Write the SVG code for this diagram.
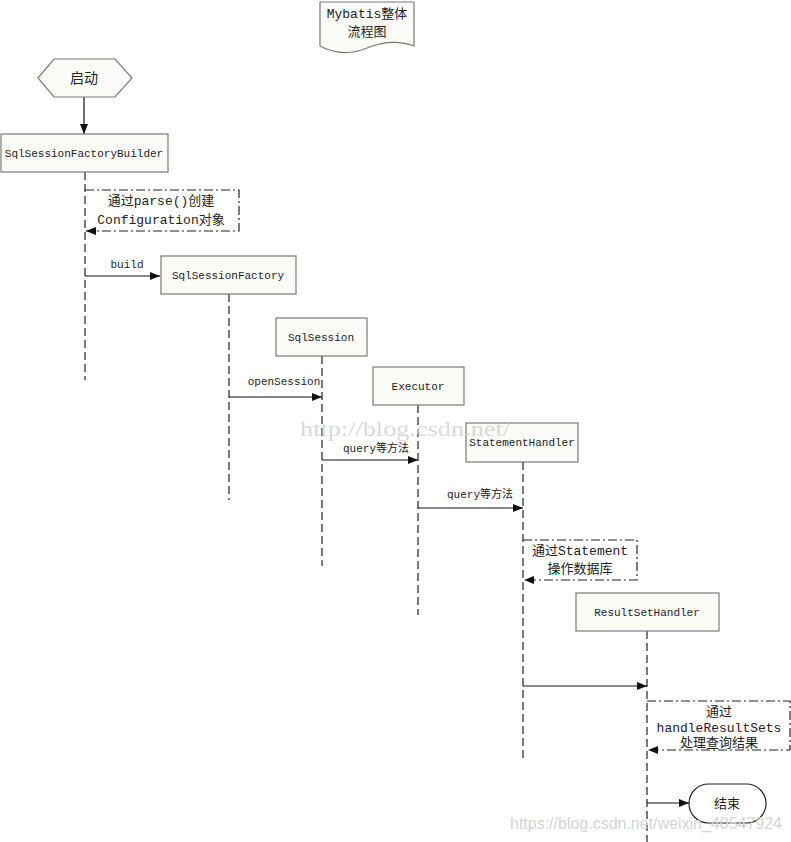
<svg xmlns="http://www.w3.org/2000/svg" width="791" height="842" viewBox="0 0 791 842">
<style>
.box{fill:#fbfbf8;stroke:#7a7a7a;stroke-width:1.2}
.life{fill:none;stroke:#222;stroke-width:1.2;stroke-dasharray:8,4}
.msg{fill:none;stroke:#111;stroke-width:1.2}
.self{fill:none;stroke:#222;stroke-width:1.2;stroke-dasharray:9,3,2,3}
.t{font-family:"Liberation Mono","Noto Sans CJK SC",monospace;font-size:11px;fill:#222;text-anchor:middle}
.s{font-family:"Liberation Mono","Noto Sans CJK SC",monospace;font-size:13px;fill:#222;text-anchor:middle}
.wm{font-family:"Liberation Serif",serif;font-size:21px;fill:#cfcfcf;fill-opacity:0.8}
.wm2{font-family:"Liberation Sans",sans-serif;font-size:16px;fill:#d4d4d4}
</style>
<defs>
<marker id="ah" viewBox="0 0 10 10" refX="10" refY="5" markerWidth="10" markerHeight="10" markerUnits="userSpaceOnUse" orient="auto">
<path d="M0,1 L10,5 L0,9 z" fill="#111"/>
</marker>
</defs>
<rect width="791" height="842" fill="#ffffff"/>
<g id="title">
<path d="M320,2 H414 V46 Q392,38 367,48 Q342,58 320,46 Z" fill="#fbfbf8" stroke="#7a7a7a" stroke-width="1.2"/>
<text class="s" x="367" y="18">Mybatis整体</text>
<text class="s" x="367" y="36">流程图</text>
</g>
<g id="connectors">
<line class="msg" x1="84" y1="97" x2="84" y2="134" marker-end="url(#ah)"/>
<line class="life" x1="85" y1="172" x2="85" y2="380"/>
<line class="life" x1="229" y1="294" x2="229" y2="500"/>
<line class="life" x1="322" y1="356" x2="322" y2="566"/>
<line class="life" x1="418" y1="405" x2="418" y2="615"/>
<line class="life" x1="523" y1="462" x2="523" y2="758"/>
<line class="life" x1="647" y1="631" x2="647" y2="842"/>
<path class="self" d="M85,190 H239 V231 H86" marker-end="url(#ah)"/>
<line class="msg" x1="85" y1="276" x2="160" y2="276" marker-end="url(#ah)"/>
<text class="t" x="127" y="268">build</text>
<line class="msg" x1="229" y1="397" x2="322" y2="397" marker-end="url(#ah)"/>
<text class="t" x="284" y="385">openSession</text>
<line class="msg" x1="322" y1="460" x2="418" y2="460" marker-end="url(#ah)"/>
<text class="t" x="376" y="452">query等方法</text>
<line class="msg" x1="418" y1="508" x2="523" y2="508" marker-end="url(#ah)"/>
<text class="t" x="480" y="498">query等方法</text>
<path class="self" d="M523,540 H637 V580 H524" marker-end="url(#ah)"/>
<line class="msg" x1="523" y1="686" x2="647" y2="686" marker-end="url(#ah)"/>
<path class="self" d="M647,701 H790 V750 H648" marker-end="url(#ah)"/>
<line class="msg" x1="647" y1="803" x2="689" y2="803" marker-end="url(#ah)"/>
</g>
<g id="start">
<polygon points="38,78 54,59 115,59 132,78 115,97 54,97" fill="#fbfbf8" stroke="#7a7a7a" stroke-width="1.2"/>
<text class="s" x="84" y="83" style="font-size:14px">启动</text>
</g>
<g id="sqlSessionFactoryBuilder">
<rect class="box" x="1" y="134" width="167" height="38"/>
<text class="t" x="84" y="157">SqlSessionFactoryBuilder</text>
</g>
<g id="parseNote">
<text class="s" x="161" y="205">通过parse()创建</text>
<text class="s" x="161" y="224">Configuration对象</text>
</g>
<g id="sqlSessionFactory">
<rect class="box" x="161" y="256" width="135" height="38"/>
<text class="t" x="228" y="279">SqlSessionFactory</text>
</g>
<g id="sqlSession">
<rect class="box" x="276" y="318" width="91" height="38"/>
<text class="t" x="321" y="341">SqlSession</text>
</g>
<g id="executor">
<rect class="box" x="373" y="367" width="91" height="38"/>
<text class="t" x="418" y="390">Executor</text>
</g>
<g id="statementHandler">
<rect class="box" x="466" y="423" width="112" height="39"/>
<text class="t" x="522" y="446">StatementHandler</text>
</g>
<g id="statementNote">
<text class="s" x="580" y="555">通过Statement</text>
<text class="s" x="580" y="573">操作数据库</text>
</g>
<g id="resultSetHandler">
<rect class="box" x="576" y="593" width="143" height="38"/>
<text class="t" x="647" y="616">ResultSetHandler</text>
</g>
<g id="resultNote">
<text class="s" x="719" y="716">通过</text>
<text class="s" x="719" y="732">handleResultSets</text>
<text class="s" x="719" y="747">处理查询结果</text>
</g>
<g id="end">
<rect x="689" y="784" width="77" height="39" rx="19.5" ry="19.5" fill="#ffffff" stroke="#222" stroke-width="1.2"/>
<text class="s" x="727" y="808">结束</text>
</g>
<text class="wm" x="300" y="436" textLength="210" lengthAdjust="spacingAndGlyphs">http://blog.csdn.net/</text>
<text class="wm2" x="510" y="829" textLength="272" lengthAdjust="spacingAndGlyphs">https://blog.csdn.net/weixin_40547924</text>
</svg>
